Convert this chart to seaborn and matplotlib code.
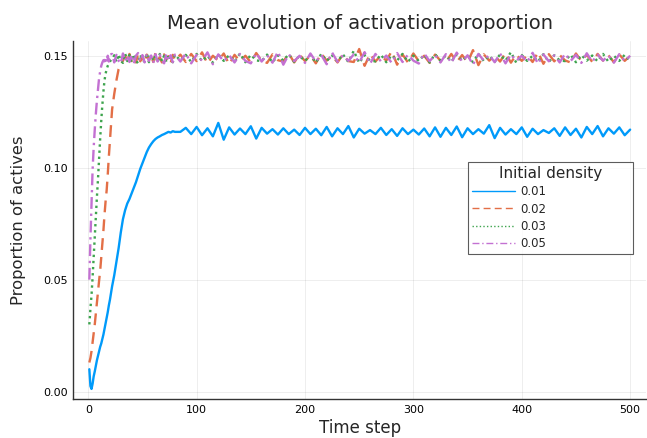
import matplotlib
matplotlib.use("Agg")
import matplotlib.pyplot as plt
import seaborn as sns
import pandas as pd
import numpy as np

# ---- data (values stored in units of 1e-4) ----
time_steps = list(range(1, 21)) + list(range(22, 81, 2)) + list(range(85, 501, 5))

density_labels = ["0.01", "0.02", "0.03", "0.05"]

vals_001 = [
    100, 25, 12, 35, 68, 90, 115, 140, 160, 180, 200, 215, 235, 255, 280, 305, 330, 355, 385, 410,
    470, 520, 580, 640, 710, 770, 810, 840, 860, 885, 910, 935, 965, 995, 1020, 1045, 1070, 1090, 1105, 1118,
    1128, 1135, 1140, 1146, 1150, 1155, 1160, 1157, 1163, 1160,
    1160, 1178, 1150, 1182, 1145, 1176, 1140, 1200, 1125, 1180,
    1148, 1175, 1150, 1185, 1130, 1178, 1152, 1172, 1148, 1176,
    1150, 1170, 1146, 1178, 1150, 1174, 1145, 1182, 1140, 1176,
    1150, 1186, 1135, 1174, 1152, 1168, 1150, 1178, 1146, 1172,
    1142, 1176, 1150, 1170, 1148, 1175, 1140, 1180, 1138, 1178,
    1146, 1184, 1136, 1176, 1150, 1172, 1152, 1190, 1132, 1178,
    1148, 1172, 1150, 1180, 1138, 1174, 1150, 1168, 1155, 1176,
    1142, 1180, 1146, 1174, 1135, 1182, 1150, 1186, 1140, 1176,
    1152, 1180, 1145, 1170,
]

vals_002 = [
    130, 150, 180, 220, 260, 300, 350, 400, 450, 495, 540, 600, 660, 720, 790, 850, 900, 970, 1050, 1120,
    1260, 1330, 1390, 1440, 1462, 1478, 1500, 1472, 1508, 1476, 1498, 1470, 1510, 1475, 1495, 1468, 1505, 1480,
    1500, 1472, 1512, 1478, 1494, 1470, 1506, 1482, 1498, 1466, 1504, 1480,
    1505, 1472, 1508, 1476, 1515, 1465, 1500, 1478, 1510, 1462,
    1504, 1475, 1500, 1470, 1512, 1478, 1468, 1506, 1480, 1474,
    1510, 1470, 1505, 1476, 1502, 1466, 1510, 1478, 1500, 1470,
    1506, 1476, 1472, 1530, 1455, 1508, 1474, 1502, 1478, 1520,
    1460, 1506, 1470, 1510, 1476, 1500, 1468, 1505, 1478, 1472,
    1508, 1472, 1503, 1470, 1525, 1458, 1506, 1478, 1500, 1474,
    1512, 1469, 1505, 1477, 1502, 1472, 1516, 1464, 1507, 1475,
    1503, 1479, 1470, 1510, 1476, 1504, 1473, 1508, 1478, 1502,
    1471, 1506, 1477, 1500,
]

vals_003 = [
    300, 370, 430, 510, 600, 690, 780, 870, 950, 1040, 1130, 1210, 1280, 1340, 1390, 1420, 1440, 1455, 1465, 1475,
    1485, 1502, 1472, 1506, 1478, 1468, 1510, 1476, 1503, 1472, 1507, 1479, 1466, 1505, 1480, 1474, 1512, 1471,
    1504, 1478, 1502, 1469, 1508, 1476, 1500, 1473, 1506, 1478, 1471, 1505,
    1478, 1504, 1472, 1508, 1476, 1500, 1469, 1506, 1477, 1502,
    1474, 1510, 1471, 1504, 1479, 1476, 1505, 1470, 1502, 1478,
    1507, 1473, 1500, 1476, 1504, 1469, 1508, 1477, 1501, 1474,
    1506, 1472, 1522, 1468, 1503, 1478, 1475, 1505, 1471, 1502,
    1479, 1508, 1473, 1500, 1476, 1504, 1470, 1507, 1478, 1501,
    1474, 1505, 1477, 1502, 1471, 1509, 1476, 1500, 1473, 1506,
    1478, 1516, 1468, 1503, 1477, 1500, 1474, 1507, 1472, 1502,
    1479, 1476, 1505, 1471, 1503, 1478, 1501, 1475, 1508, 1473,
    1500, 1477, 1504, 1476,
]

vals_005 = [
    500, 680, 840, 990, 1090, 1170, 1240, 1300, 1350, 1400, 1430, 1455, 1470, 1480, 1475, 1495, 1470, 1500, 1474, 1506,
    1508, 1470, 1504, 1478, 1465, 1510, 1476, 1502, 1472, 1506, 1464, 1500, 1512, 1475, 1503, 1470, 1508, 1477,
    1501, 1468, 1507, 1474, 1504, 1479, 1466, 1510, 1476, 1502, 1471, 1505,
    1474, 1510, 1466, 1504, 1478, 1515, 1462, 1506, 1475, 1502,
    1470, 1508, 1477, 1466, 1512, 1474, 1503, 1469, 1518, 1460,
    1506, 1476, 1500, 1468, 1510, 1474, 1504, 1462, 1514, 1473,
    1502, 1477, 1506, 1470, 1516, 1464, 1508, 1475, 1501, 1468,
    1512, 1472, 1505, 1478, 1465, 1510, 1476, 1503, 1470, 1507,
    1468, 1514, 1474, 1502, 1460, 1508, 1478, 1504, 1471, 1510,
    1466, 1505, 1477, 1500, 1472, 1513, 1464, 1506, 1475, 1502,
    1470, 1509, 1476, 1504, 1468, 1511, 1473, 1505, 1478, 1501,
    1469, 1507, 1476, 1500,
]

x_ticks = [0, 100, 200, 300, 400, 500]
y_ticks = [0.00, 0.05, 0.10, 0.15]
y_tick_labels = ["0.00", "0.05", "0.10", "0.15"]

# ---- styling ----
sns.set_theme(style="white")
plt.rcParams["font.family"] = ["DejaVu Sans"]

colors = ["#009AFA", "#E36F47", "#3EA44E", "#C371D2"]
dashes = [None, (5, 3), (1, 1.6), (5, 2, 1, 2)]

series = [vals_001, vals_002, vals_003, vals_005]
frames = []
for lab, v in zip(density_labels, series):
    frames.append(pd.DataFrame({"t": time_steps, "p": np.array(v) / 10000.0, "density": lab}))
df = pd.concat(frames, ignore_index=True)

fig = plt.figure(figsize=(6.47, 4.38), dpi=100)
ax = fig.add_axes([0.113, 0.089, 0.886, 0.817])

for lab, col, ds in zip(density_labels, colors, dashes):
    sub = df[df["density"] == lab]
    kw = {}
    if ds is not None:
        kw["dashes"] = ds
    sns.lineplot(data=sub, x="t", y="p", color=col, linewidth=1.7, ax=ax, label=lab,
                 estimator=None, **kw)

ax.set_xlim(-13.97, 514.97)
ax.set_ylim(-0.0033, 0.1565)
ax.set_xticks(x_ticks)
ax.set_xticklabels([str(v) for v in x_ticks])
ax.set_yticks(y_ticks)
ax.set_yticklabels(y_tick_labels)

ax.grid(True, color="black", alpha=0.08, linewidth=0.6)
for s in ["top", "right"]:
    ax.spines[s].set_visible(False)
for s in ["left", "bottom"]:
    ax.spines[s].set_color("#333333")
    ax.spines[s].set_linewidth(1.0)
ax.tick_params(direction="in", length=4, width=0.8, colors="#333333", labelsize=8,
               labelcolor="black", pad=4)

ax.set_title("Mean evolution of activation proportion", fontsize=14, pad=9)
ax.set_xlabel("Time step", fontsize=12, labelpad=3)
ax.set_ylabel("Proportion of actives", fontsize=11.8, labelpad=12)

leg = ax.legend(title="Initial density", loc="upper left",
                bbox_to_anchor=(0.689, 0.402, 0.288, 0.26), mode="expand",
                fontsize=8.5, title_fontsize=11, frameon=True, fancybox=False,
                handlelength=3.6, borderpad=0.35, labelspacing=0.35, handletextpad=0.5,
                borderaxespad=0.0)
leg.get_frame().set_edgecolor("#333333")
leg.get_frame().set_linewidth(0.8)
for line in leg.get_lines():
    line.set_linewidth(1.0)

fig.savefig("out.png", dpi=100)
